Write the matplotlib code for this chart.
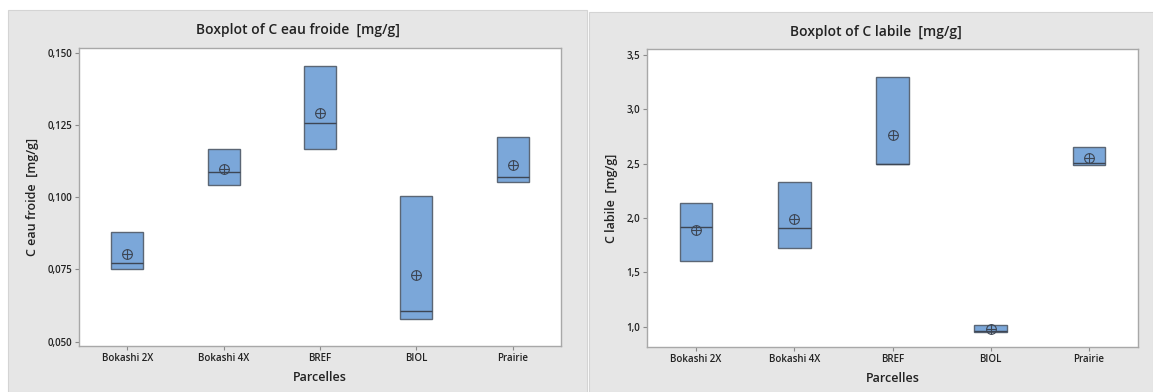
import matplotlib.pyplot as plt
from matplotlib.patches import Rectangle
from matplotlib.ticker import FuncFormatter

plt.rcParams['font.family'] = ['Open Sans', 'DejaVu Sans']
plt.rcParams['font.weight'] = 'semibold'
plt.rcParams['axes.labelweight'] = 'semibold'

parcelles = ['Bokashi 2X', 'Bokashi 4X', 'BREF', 'BIOL', 'Prairie']

# C eau froide [mg/g]: quartiles, median, mean per plot
eau_q1 = [0.0753, 0.1042, 0.1167, 0.0577, 0.1054]
eau_med = [0.0771, 0.1086, 0.1256, 0.0607, 0.1068]
eau_q3 = [0.0881, 0.1167, 0.1453, 0.1004, 0.1208]
eau_mean = [0.0802, 0.1098, 0.1290, 0.0730, 0.1110]

# C labile [mg/g]
lab_q1 = [1.605, 1.727, 2.500, 0.952, 2.485]
lab_med = [1.918, 1.911, 2.500, 0.961, 2.509]
lab_q3 = [2.136, 2.335, 3.298, 1.013, 2.654]
lab_mean = [1.887, 1.988, 2.764, 0.976, 2.550]

W, H = 1153, 392
fig = plt.figure(figsize=(W / 100, H / 100), dpi=100)
fig.patch.set_facecolor('white')

# grey panels behind each graph
fig.add_artist(Rectangle((8 / W, 0), 579 / W, 382 / H, transform=fig.transFigure,
                         facecolor='#e6e6e6', edgecolor='#d4d4d4', lw=0.8, zorder=0))
fig.add_artist(Rectangle((589 / W, 0), 564 / W, 380 / H, transform=fig.transFigure,
                         facecolor='#e6e6e6', edgecolor='#d4d4d4', lw=0.8, zorder=0))


def comma(v, pos, nd):
    return f'{v:.{nd}f}'.replace('.', ',')


def boxplot(ax, q1, med, q3, mean, ylim, yticks, nd, ylabel):
    stats = []
    for i in range(len(parcelles)):
        stats.append(dict(q1=q1[i], med=med[i], q3=q3[i], whislo=q1[i], whishi=q3[i],
                          mean=mean[i], fliers=[], label=parcelles[i]))
    pos = range(1, len(parcelles) + 1)
    ax.bxp(stats, positions=pos, widths=0.33, patch_artist=True, showcaps=False,
           boxprops=dict(facecolor='#7ba7d9', edgecolor='#5b6675', lw=1.0),
           medianprops=dict(color='#3d4654', lw=1.0),
           whiskerprops=dict(lw=0))
    ax.plot(pos, mean, 'o', ms=7, mfc='none', mec='#3d4654', mew=0.8, zorder=5)
    ax.plot(pos, mean, '+', ms=7, mec='#3d4654', mew=0.8, zorder=5)
    ax.set_xlim(0.5, 5.5)
    ax.set_ylim(*ylim)
    ax.set_yticks(yticks)
    ax.yaxis.set_major_formatter(FuncFormatter(lambda v, p: comma(v, p, nd)))
    ax.tick_params(labelsize=7, length=3, color='#8a8a8a', pad=2, labelcolor='#222222')
    for s in ax.spines.values():
        s.set_color('#a8a8a8')
        s.set_linewidth(1.0)
    ax.set_xlabel('Parcelles', fontsize=9, labelpad=5, color='#222222')
    ax.set_ylabel(ylabel, fontsize=9, labelpad=6, color='#222222')


ax1 = fig.add_axes([79 / W, 46 / H, 482 / W, 298 / H])
boxplot(ax1, eau_q1, eau_med, eau_q3, eau_mean, (0.0485, 0.1516),
        [0.050, 0.075, 0.100, 0.125, 0.150], 3, 'C eau froide  [mg/g]')
fig.text(298 / W, 1 - 30 / H, 'Boxplot of C eau froide  [mg/g]', ha='center', va='center',
         fontsize=10, color='#222222')

ax2 = fig.add_axes([647 / W, 45 / H, 491 / W, 298 / H])
boxplot(ax2, lab_q1, lab_med, lab_q3, lab_mean, (0.813, 3.555),
        [1.0, 1.5, 2.0, 2.5, 3.0, 3.5], 1, 'C labile  [mg/g]')
fig.text(876 / W, 1 - 32 / H, 'Boxplot of C labile  [mg/g]', ha='center', va='center',
         fontsize=10, color='#222222')

fig.savefig('out.png', dpi=100)
